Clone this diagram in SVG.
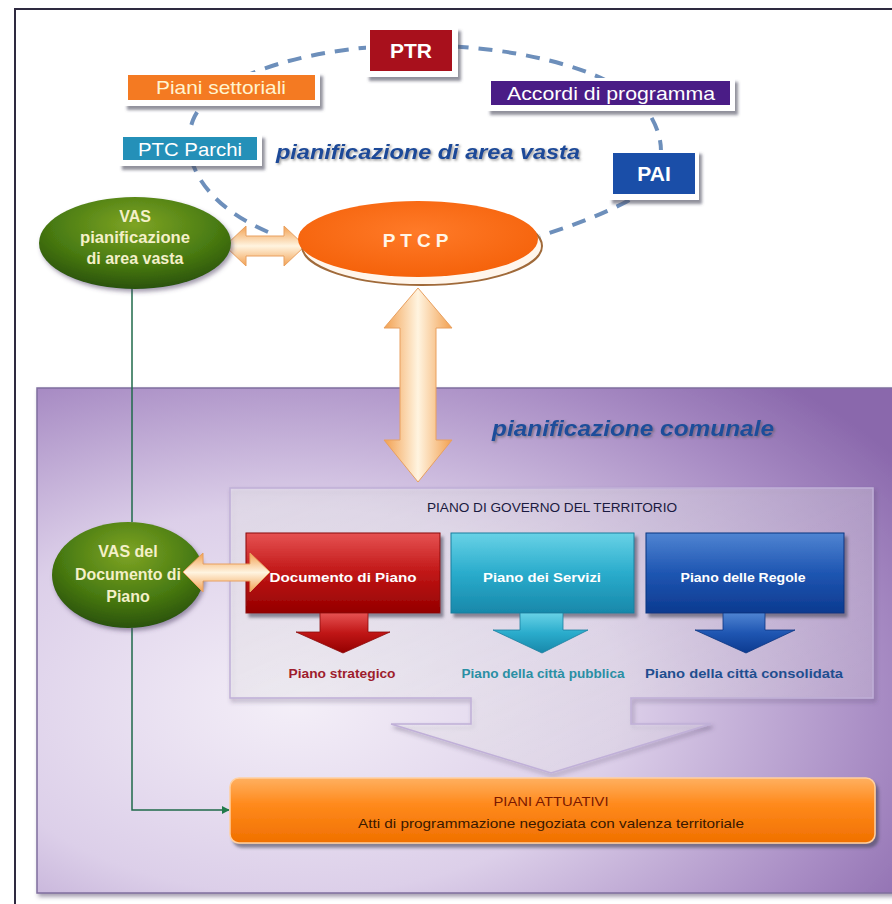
<svg xmlns="http://www.w3.org/2000/svg" width="892" height="904" viewBox="0 0 892 904">
<defs>
<style>
.f{font-family:"Liberation Sans",Arial,sans-serif}
.w{fill:#ffffff}
.lbl{font-size:19px;fill:#ffffff;text-anchor:middle}
.big{font-size:21px;font-weight:bold;fill:#ffffff;text-anchor:middle}
.vas{font-size:16px;font-weight:bold;fill:#f4f0c8;text-anchor:middle}
.box{font-size:13px;font-weight:bold;fill:#ffffff;text-anchor:middle}
.sub{font-size:13px;font-weight:bold;text-anchor:middle}
.plate{fill:#ffffff;filter:url(#sh)}
.dash{fill:none;stroke:#6d8fbb;stroke-width:4;stroke-dasharray:14 10}
.green{fill:none;stroke:#1f6a4a;stroke-width:1.5}
.harrow{fill:url(#gCreamV);stroke:#e8a060;stroke-width:1}
</style>
<filter id="sh" x="-20%" y="-20%" width="150%" height="160%">
<feDropShadow dx="3" dy="4" stdDeviation="1.5" flood-color="#4a4a5a" flood-opacity="0.6"/>
</filter>
<filter id="sh2" x="-10%" y="-10%" width="130%" height="130%">
<feDropShadow dx="2" dy="3" stdDeviation="2" flood-color="#4a3a60" flood-opacity="0.5"/>
</filter>
<filter id="tsh" x="-5%" y="-20%" width="110%" height="150%">
<feDropShadow dx="1.5" dy="1.5" stdDeviation="0.8" flood-color="#555" flood-opacity="0.6"/>
</filter>
<radialGradient id="gPanel" cx="0.3" cy="0.62" r="0.85">
<stop offset="0" stop-color="#f4eff8"/>
<stop offset="0.45" stop-color="#dccfe9"/>
<stop offset="0.8" stop-color="#a88cc4"/>
<stop offset="1" stop-color="#8a68ac"/>
</radialGradient>
<linearGradient id="gPGT" x1="0" y1="0" x2="1" y2="1">
<stop offset="0" stop-color="#ffffff" stop-opacity="0.35"/>
<stop offset="1" stop-color="#ffffff" stop-opacity="0.15"/>
</linearGradient>
<linearGradient id="gRed" x1="0" y1="0" x2="0" y2="1">
<stop offset="0" stop-color="#e65252"/>
<stop offset="0.5" stop-color="#c01616"/>
<stop offset="1" stop-color="#940000"/>
</linearGradient>
<linearGradient id="gCyan" x1="0" y1="0" x2="0" y2="1">
<stop offset="0" stop-color="#68d2e6"/>
<stop offset="0.5" stop-color="#2aaccc"/>
<stop offset="1" stop-color="#1888aa"/>
</linearGradient>
<linearGradient id="gBlue" x1="0" y1="0" x2="0" y2="1">
<stop offset="0" stop-color="#4f84d2"/>
<stop offset="0.5" stop-color="#1f56b2"/>
<stop offset="1" stop-color="#0c3a90"/>
</linearGradient>
<radialGradient id="gGreen" cx="0.5" cy="0.3" r="0.7">
<stop offset="0" stop-color="#7ea424"/>
<stop offset="0.6" stop-color="#4a7c12"/>
<stop offset="1" stop-color="#2a5208"/>
</radialGradient>
<radialGradient id="gOrange" cx="0.5" cy="0.4" r="0.65">
<stop offset="0" stop-color="#ff7a28"/>
<stop offset="1" stop-color="#f46008"/>
</radialGradient>
<linearGradient id="gCreamH" x1="0" y1="0" x2="1" y2="0">
<stop offset="0" stop-color="#f2a050"/>
<stop offset="0.5" stop-color="#fff4e0"/>
<stop offset="1" stop-color="#f2a050"/>
</linearGradient>
<linearGradient id="gCreamV" x1="0" y1="0" x2="0" y2="1">
<stop offset="0" stop-color="#f2a050"/>
<stop offset="0.5" stop-color="#fff4e0"/>
<stop offset="1" stop-color="#f2a050"/>
</linearGradient>
<linearGradient id="gAttu" x1="0" y1="0" x2="0" y2="1">
<stop offset="0" stop-color="#ffb060"/>
<stop offset="0.4" stop-color="#ff8a1c"/>
<stop offset="1" stop-color="#f07000"/>
</linearGradient>
<marker id="ga" viewBox="0 0 10 10" refX="9" refY="5" markerWidth="8" markerHeight="8" markerUnits="userSpaceOnUse" orient="auto">
<path d="M0,0 L10,5 L0,10 Z" fill="#1f7a4a"/>
</marker>
</defs>

<!-- frame -->
<rect x="15" y="9" width="900" height="910" fill="#ffffff" stroke="#2e2a40" stroke-width="2"/>

<!-- purple panel -->
<g id="panel">
<rect x="37" y="388" width="860" height="505" fill="url(#gPanel)" stroke="#7f6e9e" stroke-width="1.5" filter="url(#sh2)"/>
<text class="f" x="633" y="436" font-size="22" font-weight="bold" font-style="italic" fill="#1f4e9a" text-anchor="middle" textLength="282" lengthAdjust="spacingAndGlyphs" filter="url(#tsh)">pianificazione comunale</text>
</g>

<!-- connectors -->
<g id="connectors">
<path class="dash" d="M268,232 C205,205 178,160 193,120 C208,82 290,48 410,45 C530,45 625,75 650,115 C672,152 660,185 622,204 C592,219 565,228 540,236"/>
<path class="green" d="M132,288 V522"/>
<path class="green" d="M132,628 V810 H229" marker-end="url(#ga)"/>
<path class="harrow" d="M225,246 L246,226 L246,236 L284,236 L284,226 L305,246 L284,266 L284,256 L246,256 L246,266 Z"/>
<path d="M418,288 L452,328 L436,328 L436,440 L452,440 L418,482 L384,440 L400,440 L400,328 L384,328 Z" fill="url(#gCreamH)" stroke="#e8a060" stroke-width="1"/>
</g>

<!-- top boxes -->
<g id="ptr">
<rect class="plate" x="366" y="27" width="92" height="50"/>
<rect x="370" y="30" width="82" height="41" fill="#a8101c"/>
<text class="f big" x="411" y="58">PTR</text>
</g>
<g id="piani-settoriali">
<rect class="plate" x="124" y="72" width="196" height="34"/>
<rect x="128" y="75" width="187" height="25" fill="#f47a22"/>
<text class="f lbl" x="221" y="94" fill="#fff4d0" style="fill:#fff4d0" textLength="130" lengthAdjust="spacingAndGlyphs">Piani settoriali</text>
</g>
<g id="accordi">
<rect class="plate" x="487" y="78" width="248" height="33"/>
<rect x="491" y="81" width="239" height="24" fill="#4a1c86"/>
<text class="f lbl" x="611" y="100" textLength="208" lengthAdjust="spacingAndGlyphs">Accordi di programma</text>
</g>
<g id="ptc-parchi">
<rect class="plate" x="119" y="134" width="143" height="32"/>
<rect x="123" y="137" width="134" height="23" fill="#2490b8"/>
<text class="f lbl" x="190" y="156" textLength="104" lengthAdjust="spacingAndGlyphs">PTC Parchi</text>
</g>
<g id="pai">
<rect class="plate" x="609" y="150" width="90" height="50"/>
<rect x="613" y="153" width="82" height="41" fill="#1a4ea8"/>
<text class="f big" x="654" y="181">PAI</text>
</g>
<g id="area-vasta-label">
<text class="f" x="428" y="159" font-size="20" font-weight="bold" font-style="italic" fill="#1c4a98" text-anchor="middle" textLength="304" lengthAdjust="spacingAndGlyphs" filter="url(#tsh)">pianificazione di area vasta</text>
</g>

<!-- VAS area vasta -->
<g id="vas-area-vasta">
<ellipse cx="135" cy="243" rx="96" ry="46" fill="url(#gGreen)" filter="url(#sh2)"/>
<text class="f vas" x="135" y="222">VAS</text>
<text class="f vas" x="135" y="243" textLength="110" lengthAdjust="spacingAndGlyphs">pianificazione</text>
<text class="f vas" x="135" y="264">di area vasta</text>
</g>

<!-- PTCP -->
<g id="ptcp">
<ellipse cx="422" cy="246" rx="120" ry="39" fill="#fff6ec" stroke="#a06a3a" stroke-width="2"/>
<ellipse cx="418" cy="239" rx="120" ry="38" fill="url(#gOrange)"/>
<text class="f" x="418" y="247" font-size="19" font-weight="bold" fill="#fff6e8" text-anchor="middle" letter-spacing="5">PTCP</text>
</g>

<!-- PGT -->
<g id="pgt">
<path d="M230,488 H873 V698 H631 V724 H711 L551,773 L391,724 H471 V698 H230 Z" fill="url(#gPGT)" stroke="#c0b0d8" stroke-width="1.5" filter="url(#sh2)"/>
<text class="f" x="552" y="512" font-size="12" fill="#1a1a40" text-anchor="middle" textLength="250" lengthAdjust="spacingAndGlyphs">PIANO DI GOVERNO DEL TERRITORIO</text>
</g>

<g id="documento-di-piano">
<rect x="246" y="533" width="194" height="80" fill="url(#gRed)" stroke="#8a0a0a" stroke-width="1" filter="url(#sh)"/>
<path d="M320,613 V632 H296 L343,653 L390,632 H368 V613 Z" fill="url(#gRed)" stroke="#8a0a0a" stroke-width="0.8"/>
<text class="f box" x="343" y="582" textLength="147" lengthAdjust="spacingAndGlyphs">Documento di Piano</text>
<text class="f sub" x="342" y="678" fill="#9e1c2c" textLength="107" lengthAdjust="spacingAndGlyphs">Piano strategico</text>
</g>

<g id="piano-dei-servizi">
<rect x="451" y="533" width="183" height="80" fill="url(#gCyan)" stroke="#1a7e9e" stroke-width="1" filter="url(#sh)"/>
<path d="M520,613 V630 H493 L542,653 L588,630 H563 V613 Z" fill="url(#gCyan)" stroke="#1a7e9e" stroke-width="0.8"/>
<text class="f box" x="542" y="582" textLength="118" lengthAdjust="spacingAndGlyphs">Piano dei Servizi</text>
<text class="f sub" x="543" y="678" fill="#2a8fa4" textLength="163" lengthAdjust="spacingAndGlyphs">Piano della città pubblica</text>
</g>

<g id="piano-delle-regole">
<rect x="646" y="533" width="198" height="80" fill="url(#gBlue)" stroke="#0a3480" stroke-width="1" filter="url(#sh)"/>
<path d="M723,613 V630 H695 L746,653 L795,630 H765 V613 Z" fill="url(#gBlue)" stroke="#0a3480" stroke-width="0.8"/>
<text class="f box" x="743" y="582" textLength="125" lengthAdjust="spacingAndGlyphs">Piano delle Regole</text>
<text class="f sub" x="744" y="678" fill="#1f4e8f" textLength="198" lengthAdjust="spacingAndGlyphs">Piano della città consolidata</text>
</g>

<!-- VAS del Documento di Piano -->
<g id="vas-documento">
<ellipse cx="128" cy="575" rx="76" ry="53" fill="url(#gGreen)" filter="url(#sh2)"/>
<text class="f vas" x="128" y="557">VAS del</text>
<text class="f vas" x="128" y="580" textLength="106" lengthAdjust="spacingAndGlyphs">Documento di</text>
<text class="f vas" x="128" y="602">Piano</text>
</g>
<g id="arrow-vas-doc">
<path class="harrow" d="M183,572 L203,553 L203,564 L250,564 L250,553 L270,572 L250,592 L250,581 L203,581 L203,592 Z"/>
</g>

<!-- PIANI ATTUATIVI -->
<g id="piani-attuativi">
<rect x="230" y="778" width="645" height="65" rx="9" fill="url(#gAttu)" stroke="#ffd0a0" stroke-width="1.5" filter="url(#sh)"/>
<text class="f" x="551" y="806" font-size="13" fill="#7a1800" text-anchor="middle" textLength="115" lengthAdjust="spacingAndGlyphs">PIANI ATTUATIVI</text>
<text class="f" x="551" y="828" font-size="13" fill="#3a1800" text-anchor="middle" textLength="386" lengthAdjust="spacingAndGlyphs">Atti di programmazione negoziata con valenza territoriale</text>
</g>
</svg>
